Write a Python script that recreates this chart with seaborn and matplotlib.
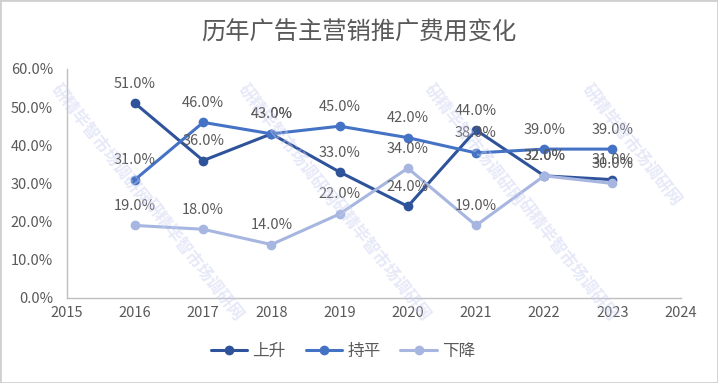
import pandas as pd
import seaborn as sns
import matplotlib.pyplot as plt
from matplotlib.ticker import PercentFormatter

# 数据
years = [2016, 2017, 2018, 2019, 2020, 2021, 2022, 2023]
shangsheng = [51, 36, 43, 33, 24, 44, 32, 31]
chiping = [31, 46, 43, 45, 42, 38, 39, 39]
xiajiang = [19, 18, 14, 22, 34, 19, 32, 30]
series_names = ['上升', '持平', '下降']
colors = ['#2F539B', '#4472C4', '#A7B6E0']

df = pd.DataFrame({'年份': years, '上升': shangsheng, '持平': chiping, '下降': xiajiang})
df_long = df.melt(id_vars='年份', var_name='类型', value_name='比例')

sns.set_style('white')
plt.rcParams['font.family'] = ['Noto Sans CJK SC', 'DejaVu Sans']

fig = plt.figure(figsize=(7.18, 3.83), dpi=100)
ax = fig.add_axes([0.093, 0.222, 0.855, 0.598])

sns.lineplot(data=df_long, x='年份', y='比例', hue='类型', hue_order=series_names,
             palette=colors, marker='o', markersize=7, markeredgewidth=0,
             linewidth=2.2, ax=ax)

# 数据标签
for name in series_names:
    for x, y in zip(df['年份'], df[name]):
        ax.annotate(f'{y:.1f}%', (x, y), xytext=(0, 9), textcoords='offset points',
                    ha='center', va='bottom', fontsize=10.5, color='#595959')

ax.set_xlim(2015, 2024)
ax.set_ylim(0, 60)
ax.set_xticks(range(2015, 2025))
ax.set_yticks(range(0, 61, 10))
ax.yaxis.set_major_formatter(PercentFormatter(decimals=1))
ax.tick_params(axis='both', labelsize=10.5, labelcolor='#595959', length=0)
ax.tick_params(axis='y', pad=10)
ax.tick_params(axis='x', pad=6)
ax.set_xlabel('')
ax.set_ylabel('')
for s in ['top', 'right']:
    ax.spines[s].set_visible(False)
for s in ['left', 'bottom']:
    ax.spines[s].set_color('#BFBFBF')
    ax.spines[s].set_linewidth(1)

ax.legend(loc='upper center', bbox_to_anchor=(0.45, -0.13), ncol=3, frameon=False,
          fontsize=12, labelcolor='#595959', handlelength=2.2, columnspacing=1.2,
          handletextpad=0.3)

fig.text(0.5, 0.915, '历年广告主营销推广费用变化', ha='center', va='center',
         fontsize=17.5, color='#595959')

# 水印
for wx, wy in [(0.14, 0.62), (0.40, 0.62), (0.66, 0.62), (0.88, 0.62),
               (0.27, 0.32), (0.53, 0.32), (0.79, 0.32)]:
    fig.text(wx, wy, '研精毕智市场调研网', rotation=-52, ha='center', va='center',
             fontsize=12, color='#C9CEF0', alpha=0.45, fontweight='bold')

# 边框
fig.patches.append(plt.Rectangle((0, 0), 1, 1, transform=fig.transFigure,
                                 fill=False, edgecolor='#D0D0D0', linewidth=2))

fig.savefig('out.png', dpi=100)
